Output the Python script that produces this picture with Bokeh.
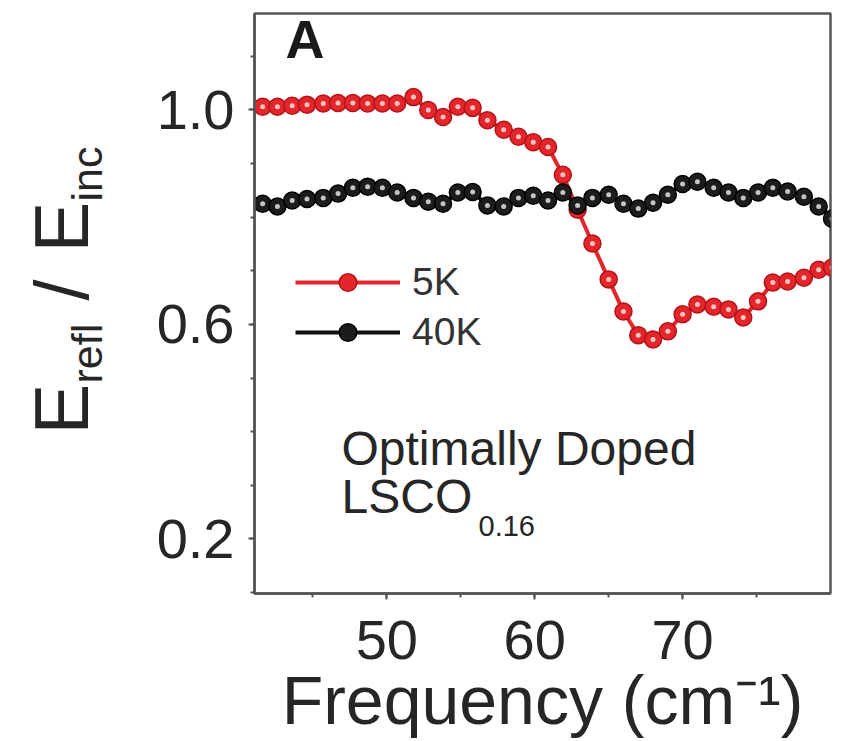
from bokeh.plotting import figure
from bokeh.layouts import row
from bokeh.models import Label, Legend, LegendItem, FixedTicker, Range1d, NumeralTickFormatter
from bokeh.embed import file_html
from bokeh.resources import INLINE

# ---- data ----
freq = [41.6, 42.6, 43.6, 44.6, 45.7, 46.7, 47.7, 48.7, 49.7, 50.7,
        51.8, 52.8, 53.8, 54.8, 55.8, 56.8, 57.9, 58.9, 59.9, 60.9,
        61.9, 62.9, 63.9, 65.0, 66.0, 67.0, 68.0, 69.0, 70.0, 71.0,
        72.1, 73.1, 74.1, 75.1, 76.1, 77.1, 78.2, 79.2, 80.1]
r_5k = [1.006, 1.006, 1.008, 1.010, 1.012, 1.013, 1.013, 1.012, 1.012, 1.012,
        1.024, 1.000, 0.987, 1.006, 1.004, 0.981, 0.963, 0.950, 0.940, 0.931,
        0.879, 0.814, 0.751, 0.684, 0.624, 0.580, 0.572, 0.587, 0.619, 0.637,
        0.633, 0.628, 0.613, 0.643, 0.678, 0.680, 0.687, 0.702, 0.706]
r_40k = [0.825, 0.820, 0.831, 0.834, 0.836, 0.844, 0.855, 0.857, 0.855, 0.846,
         0.836, 0.829, 0.825, 0.846, 0.847, 0.822, 0.820, 0.836, 0.840, 0.831,
         0.846, 0.822, 0.836, 0.842, 0.825, 0.816, 0.827, 0.842, 0.862, 0.866,
         0.855, 0.846, 0.836, 0.846, 0.855, 0.848, 0.838, 0.820, 0.797]
x_major = [50, 60, 70]
x_minor = [45, 50, 55, 60, 65, 70, 75]
y_major = [0.2, 0.6, 1.0]
y_minor = [0.1, 0.2, 0.3, 0.4, 0.5, 0.6, 0.7, 0.8, 0.9, 1.0, 1.1]

FONT = "Liberation Sans"
TXT = "#262626"
AX = "#555555"
RED = "#e3262b"

H = 740
LW = 130                 # width of the strip holding the y-axis title
W = 840 - LW             # width of the main figure
FL, FR, FT, FB = 254 - LW, 830 - LW, 13, 595   # frame edges inside main figure

p = figure(width=W, height=H, output_backend="svg", toolbar_location=None,
           x_range=Range1d(41.05, 80.0), y_range=Range1d(0.098, 1.18),
           min_border_left=FL, min_border_right=W - FR, min_border_top=FT,
           min_border_bottom=H - FB)
p.grid.visible = False
p.background_fill_color = "white"
p.border_fill_color = "white"
p.outline_line_color = AX
p.outline_line_width = 2.5

for ax in (p.xaxis[0], p.yaxis[0]):
    ax.axis_line_color = AX
    ax.axis_line_width = 2.5
    ax.major_tick_line_color = AX
    ax.minor_tick_line_color = AX
    ax.major_tick_line_width = 2
    ax.minor_tick_line_width = 2
    ax.major_tick_out = 6
    ax.major_tick_in = 0
    ax.minor_tick_out = 4
    ax.minor_tick_in = 0
    ax.major_label_text_font = FONT
    ax.major_label_text_font_size = "56px"
    ax.major_label_text_color = TXT

p.xaxis.ticker = FixedTicker(ticks=x_major, minor_ticks=x_minor)
p.yaxis.ticker = FixedTicker(ticks=y_major, minor_ticks=y_minor)
p.yaxis.formatter = NumeralTickFormatter(format="0.0")
p.xaxis.major_label_standoff = 21
p.yaxis.major_label_standoff = 14

p.xaxis.axis_label = "Frequency (cm\u207b\u00b9)"
p.xaxis.axis_label_text_font = FONT
p.xaxis.axis_label_text_font_size = "68px"
p.xaxis.axis_label_text_font_style = "normal"
p.xaxis.axis_label_text_color = TXT
p.xaxis.axis_label_standoff = 0

# ---- series ----
rl = p.line(freq, r_5k, line_color=RED, line_width=4)
rc = p.scatter(freq, r_5k, size=17, fill_color=RED, line_color="#b51217", line_width=1.5)
p.scatter(freq, r_5k, size=5, fill_color="#ffd6cc", line_color=None, fill_alpha=0.9)

bl = p.line(freq, r_40k, line_color="#111111", line_width=4)
bc = p.scatter(freq, r_40k, size=17, fill_color="#1c1c1c", line_color="#000000", line_width=1.5)
p.scatter(freq, r_40k, size=5, fill_color="#d8d8d8", line_color=None, fill_alpha=0.9)

legend = Legend(items=[LegendItem(label="5K", renderers=[rl, rc]),
                       LegendItem(label="40K", renderers=[bl, bc])],
                location=(41, 239), glyph_width=105, glyph_height=44,
                label_standoff=12, spacing=6, padding=0, margin=0,
                border_line_alpha=0, background_fill_alpha=0,
                label_text_font_size="39px", label_text_font=FONT,
                label_text_color="#333333")
p.add_layout(legend)


def add_text(fig, text, x, y, size, angle=0, bold=False, color=TXT):
    """x, y: screen units relative to the frame's bottom-left corner"""
    fig.add_layout(Label(x=x, y=y, x_units="screen", y_units="screen", text=text,
                         text_font=FONT, text_font_size=f"{size}px",
                         text_font_style="bold" if bold else "normal",
                         text_color=color, angle=angle, angle_units="deg",
                         text_baseline="alphabetic", text_align="left"))


# panel letter and annotation
add_text(p, "A", 31, 555, 54, bold=True, color="#1a1a1a")
add_text(p, "Optimally Doped", 87, 145, 48)
add_text(p, "LSCO", 87, 97, 48)
add_text(p, "0.16", 224, 68, 29)

# ---- strip with the rotated y-axis title ----
# (its frame is aligned with the main frame by the row layout: top 13, bottom 595)
q = figure(width=LW, height=H, output_backend="svg", toolbar_location=None,
           x_range=Range1d(0, 1), y_range=Range1d(0, 1),
           x_axis_type=None, y_axis_type=None,
           min_border_left=0, min_border_right=0, min_border_top=0, min_border_bottom=0)
q.grid.visible = False
q.outline_line_color = None
q.background_fill_color = "white"
q.border_fill_color = "white"

add_text(q, "E", 61, FB - 432 - 4, 76, angle=90)
add_text(q, "refl", 86, FB - 381 - 4, 43, angle=90)
add_text(q, "/", 61, FB - 298 - 4, 76, angle=90)
add_text(q, "E", 61, FB - 250 - 4, 76, angle=90)
add_text(q, "inc", 86, FB - 199 - 4, 43, angle=90)

open("out.html", "w").write(file_html(row(q, p), INLINE))
